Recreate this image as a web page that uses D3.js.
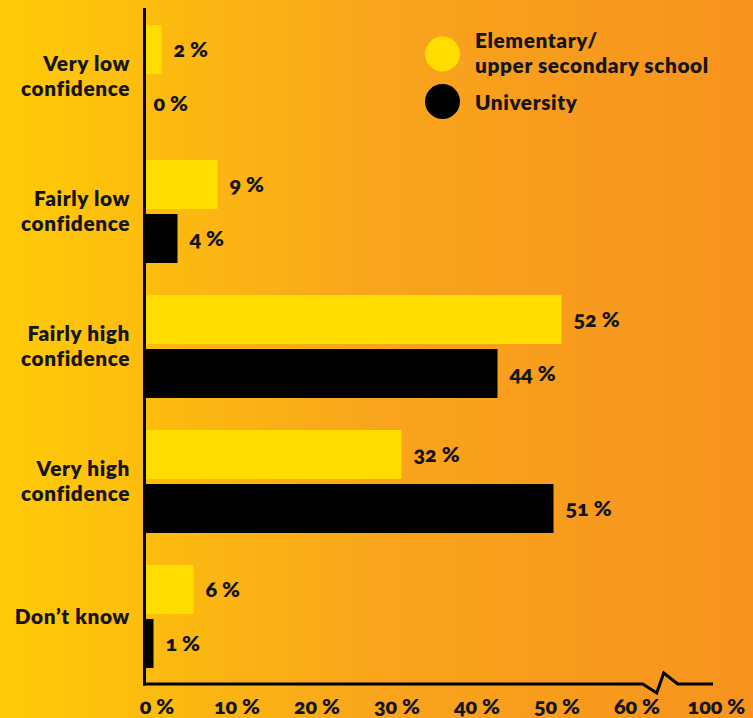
<!DOCTYPE html>
<html>
<head>
<meta charset="utf-8">
<script src="https://cdn.jsdelivr.net/npm/d3@7"></script>
<style>
  html, body { margin: 0; padding: 0; }
  body { width: 753px; height: 718px; overflow: hidden; }
  svg { display: block; font-family: Lato, "Open Sans", sans-serif; font-weight: 800; font-variant-numeric: oldstyle-nums; }
</style>
</head>
<body>
<svg id="chart" width="753" height="718"></svg>
<script>
// Confidence levels, one group of two bars each
const categories = [
  ["Very low", "confidence"],
  ["Fairly low", "confidence"],
  ["Fairly high", "confidence"],
  ["Very high", "confidence"],
  ["Don\u2019t know"]
];
const seriesNames = ["Elementary/\nupper secondary school", "University"];
const elementary = [2, 9, 52, 32, 6];
const university = [0, 4, 44, 51, 1];
const tickValues = [0, 10, 20, 30, 40, 50, 60, 100];
const seriesColors = ["#FFDD00", "#000000"];

const svg = d3.select("#chart");
const W = 753, H = 718;
const ink = "#151515";
const labelSize = 20.8, labelSpacing = 0.6, numberSize = 21.5, leading = 25;

// Background: warm yellow to orange, left to right
const defs = svg.append("defs");
const grad = defs.append("linearGradient").attr("id", "bg")
  .attr("x1", "0%").attr("x2", "100%").attr("y1", "0%").attr("y2", "0%");
grad.append("stop").attr("offset", "0%").attr("stop-color", "#FFCB06");
grad.append("stop").attr("offset", "50%").attr("stop-color", "#F9A51C");
grad.append("stop").attr("offset", "100%").attr("stop-color", "#F7931E");
svg.append("rect").attr("width", W).attr("height", H).attr("fill", "url(#bg)");

// Value axis with a break between 60 % and 100 %
const x = d3.scaleLinear().domain([0, 60, 100]).range([145.5, 625.5, 705]);
const axisY = 684;

// Category bands and the two bars within each
const y = d3.scaleBand().domain(d3.range(categories.length)).range([25, 25 + 135 * 5]);
const barH = 49, barGap = 5;

const data = categories.map((c, i) => ({ i, label: c, vals: [elementary[i], university[i]] }));

const groups = svg.append("g").selectAll("g").data(data).join("g")
  .attr("transform", d => `translate(0,${y(d.i)})`);

groups.selectAll("rect").data(d => d.vals.map((v, s) => ({ v, s }))).join("rect")
  .attr("x", x(0))
  .attr("y", d => d.s * (barH + barGap))
  .attr("width", d => x(d.v) - x(0))
  .attr("height", barH)
  .attr("fill", d => seriesColors[d.s]);

groups.selectAll("text.val").data(d => d.vals.map((v, s) => ({ v, s }))).join("text")
  .attr("class", "val")
  .attr("x", d => x(d.v) + (d.v === 0 ? 8 : 12))
  .attr("y", d => d.s * (barH + barGap) + barH / 2 + 7)
  .attr("font-size", numberSize)
  .attr("fill", ink)
  .text(d => `${d.v} %`);

// Category labels, right aligned against the axis
groups.each(function(d) {
  const g = d3.select(this);
  const n = d.label.length;
  const mid = (2 * barH + barGap) / 2;
  d.label.forEach((line, k) => {
    g.append("text")
      .attr("text-anchor", "end")
      .attr("font-size", labelSize)
      .attr("letter-spacing", labelSpacing)
      .attr("fill", ink)
      .attr("x", 130)
      .attr("y", mid + (k - (n - 1) / 2) * leading + 7)
      .text(line);
  });
});

// Axis lines
svg.append("line")
  .attr("x1", 144.5).attr("x2", 144.5).attr("y1", 8).attr("y2", axisY + 1.5)
  .attr("stroke", "#000").attr("stroke-width", 3);

const bx = (x(60) + x(100)) / 2 + 0.5;
const axisPath = d3.path();
axisPath.moveTo(143, axisY);
axisPath.lineTo(bx - 23, axisY);
axisPath.lineTo(bx - 9, axisY + 9);
axisPath.lineTo(bx - 2, axisY - 11);
axisPath.lineTo(bx + 12, axisY);
axisPath.lineTo(x(100) + 8, axisY);
svg.append("path").attr("d", axisPath.toString())
  .attr("fill", "none").attr("stroke", "#000").attr("stroke-width", 3)
  .attr("stroke-linejoin", "miter");

// Tick labels: the number sits centred on its tick, the % sign follows
const tickG = svg.append("g");
tickValues.forEach(v => {
  const t = tickG.append("text")
    .attr("font-size", numberSize).attr("fill", ink)
    .attr("y", 714)
    .text(String(v));
  const w = t.node().getComputedTextLength();
  t.attr("x", x(v) - w / 2);
  t.text(`${v} %`);
});

// Legend
const legend = svg.append("g");
const legendRows = [
  { color: seriesColors[0], lines: seriesNames[0].split("\n"), cy: 54, ty: 47.5 },
  { color: seriesColors[1], lines: seriesNames[1].split("\n"), cy: 101.5, ty: 110 }
];
legendRows.forEach(r => {
  legend.append("circle").attr("cx", 442.5).attr("cy", r.cy).attr("r", 17.5).attr("fill", r.color);
  r.lines.forEach((line, k) => {
    legend.append("text").attr("font-size", labelSize).attr("letter-spacing", labelSpacing)
      .attr("fill", ink)
      .attr("x", 475).attr("y", r.ty + k * leading).text(line);
  });
});
</script>
</body>
</html>
